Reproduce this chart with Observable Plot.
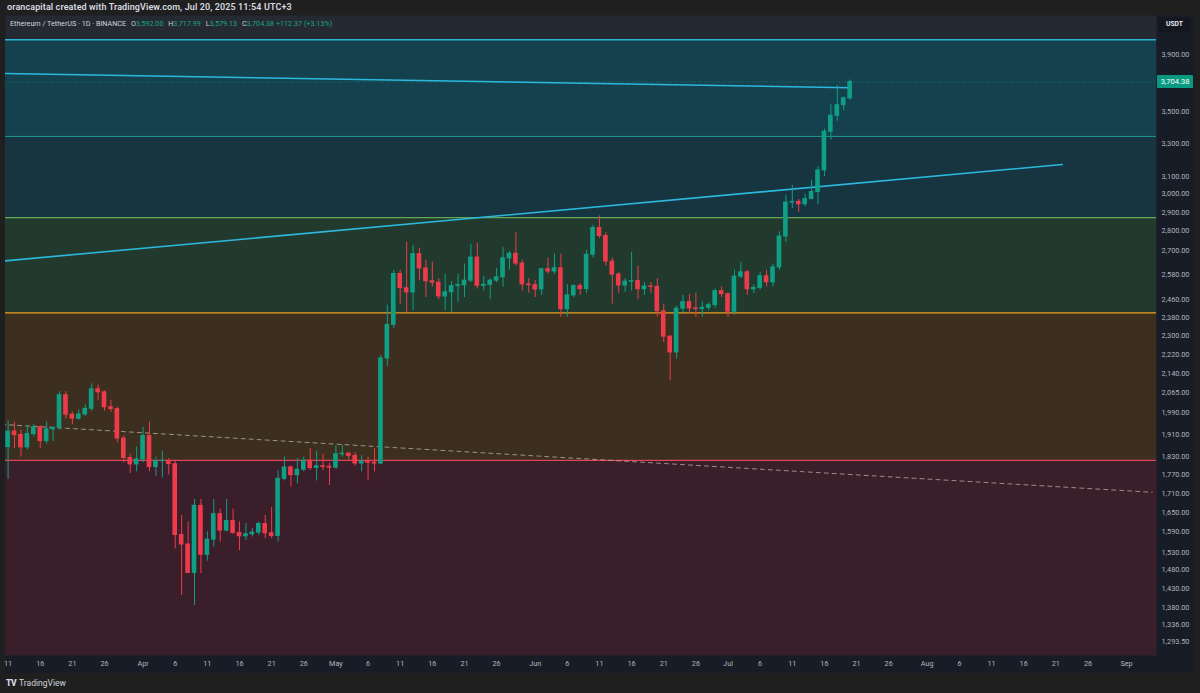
<!DOCTYPE html>
<html>
<head>
<meta charset="utf-8">
<script src="https://cdn.jsdelivr.net/npm/d3@7"></script>
<script src="https://cdn.jsdelivr.net/npm/@observablehq/plot@0.6"></script>
<style>
  html, body { margin: 0; padding: 0; width: 1200px; height: 693px; overflow: hidden; background: #1f1f1f; font-family: Roboto, "Noto Sans", sans-serif; }
  #header { position: absolute; left: 7px; top: 2px; font-size: 9px; font-weight: 600; color: #d8dae0; letter-spacing: 0.1px; }
  #panel { position: absolute; left: 5px; top: 15px; width: 1189px; height: 658px; }
  #panel svg { display: block; }
  #legend { position: absolute; left: 10px; top: 19px; font-size: 7.2px; color: #d1d4dc; white-space: nowrap; }
  #legend .k { color: #c9ccd4; margin-left: 3px; }
  #legend .v { color: #17a58a; }
  #usdt { position: absolute; left: 1158px; top: 17px; width: 33px; height: 15px; background: #14171f; border-radius: 2px; color: #e6e8ee; font-size: 6.8px; font-weight: 700; line-height: 15px; text-align: center; }
  #logo { position: absolute; left: 6px; top: 678px; font-size: 8.5px; color: #d1d4dc; display: flex; align-items: center; gap: 3px; }
  #logo b { font-size: 8.5px; font-weight: 900; letter-spacing: -0.5px; }
</style>
</head>
<body>
<div id="header">orancapital created with TradingView.com, Jul 20, 2025 11:54 UTC+3</div>
<div id="panel"></div>
<div id="legend">Ethereum / TetherUS · 1D · BINANCE <span class="k">O</span><span class="v">3,592.00</span> <span class="k">H</span><span class="v">3,717.99</span> <span class="k">L</span><span class="v">3,579.13</span> <span class="k">C</span><span class="v">3,704.38 +112.37 (+3.13%)</span></div>
<div id="usdt">USDT</div>
<div id="logo"><b>TV</b><span>TradingView</span></div>
<script>
// ---------------- data ----------------
const dates = [
 "2025-03-11","2025-03-12","2025-03-13","2025-03-14","2025-03-15","2025-03-16","2025-03-17","2025-03-18","2025-03-19","2025-03-20",
 "2025-03-21","2025-03-22","2025-03-23","2025-03-24","2025-03-25","2025-03-26","2025-03-27","2025-03-28","2025-03-29","2025-03-30","2025-03-31",
 "2025-04-01","2025-04-02","2025-04-03","2025-04-04","2025-04-05","2025-04-06","2025-04-07","2025-04-08","2025-04-09","2025-04-10",
 "2025-04-11","2025-04-12","2025-04-13","2025-04-14","2025-04-15","2025-04-16","2025-04-17","2025-04-18","2025-04-19","2025-04-20",
 "2025-04-21","2025-04-22","2025-04-23","2025-04-24","2025-04-25","2025-04-26","2025-04-27","2025-04-28","2025-04-29","2025-04-30",
 "2025-05-01","2025-05-02","2025-05-03","2025-05-04","2025-05-05","2025-05-06","2025-05-07","2025-05-08","2025-05-09","2025-05-10",
 "2025-05-11","2025-05-12","2025-05-13","2025-05-14","2025-05-15","2025-05-16","2025-05-17","2025-05-18","2025-05-19","2025-05-20",
 "2025-05-21","2025-05-22","2025-05-23","2025-05-24","2025-05-25","2025-05-26","2025-05-27","2025-05-28","2025-05-29","2025-05-30","2025-05-31",
 "2025-06-01","2025-06-02","2025-06-03","2025-06-04","2025-06-05","2025-06-06","2025-06-07","2025-06-08","2025-06-09","2025-06-10",
 "2025-06-11","2025-06-12","2025-06-13","2025-06-14","2025-06-15","2025-06-16","2025-06-17","2025-06-18","2025-06-19","2025-06-20",
 "2025-06-21","2025-06-22","2025-06-23","2025-06-24","2025-06-25","2025-06-26","2025-06-27","2025-06-28","2025-06-29","2025-06-30",
 "2025-07-01","2025-07-02","2025-07-03","2025-07-04","2025-07-05","2025-07-06","2025-07-07","2025-07-08","2025-07-09","2025-07-10",
 "2025-07-11","2025-07-12","2025-07-13","2025-07-14","2025-07-15","2025-07-16","2025-07-17","2025-07-18","2025-07-19","2025-07-20"
];
const opens = [
 1865,1920,1908,1864,1911,1936,1886,1928,1934,2056,
 1982,1967,1983,2004,2079,2067,2010,2003,1895,1827,1805,
 1822,1904,1796,1816,1817,1806,1581,1553,1472,1670,
 1523,1567,1644,1594,1623,1587,1577,1583,1588,1614,
 1586,1578,1757,1795,1769,1787,1818,1793,1799,1797,
 1794,1840,1842,1834,1808,1815,1811,1808,2203,2346,
 2582,2514,2494,2680,2609,2547,2540,2475,2495,2524,
 2528,2550,2663,2525,2530,2550,2566,2659,2682,2633,2532,
 2528,2508,2605,2594,2610,2417,2480,2524,2510,2677,
 2815,2773,2643,2579,2527,2545,2548,2509,2522,2520,
 2407,2295,2228,2419,2449,2420,2417,2423,2435,2500,
 2486,2405,2569,2590,2509,2515,2571,2542,2614,2770,
 2953,2957,2943,2972,3012,3137,3373,3476,3546,3592
];
const highs = [
 1960,1955,1925,1940,1945,1940,1955,1935,2070,2070,
 1992,2000,2020,2100,2095,2073,2035,2010,1905,1840,1865,
 1935,1955,1830,1850,1825,1815,1640,1620,1690,1690,
 1590,1690,1660,1690,1660,1620,1615,1600,1620,1640,
 1665,1785,1830,1800,1825,1830,1860,1850,1840,1810,
 1870,1870,1845,1845,1835,1830,1860,2215,2435,2600,
 2600,2740,2725,2710,2650,2640,2560,2580,2545,2580,
 2630,2730,2735,2570,2560,2610,2715,2695,2790,2650,2560,
 2550,2610,2660,2680,2680,2530,2530,2535,2700,2830,
 2880,2790,2660,2590,2560,2690,2620,2540,2540,2560,
 2440,2300,2430,2480,2485,2490,2450,2445,2510,2520,
 2490,2600,2640,2600,2530,2590,2600,2630,2795,2995,
 3050,2970,3000,3080,3160,3390,3550,3680,3600,3717.99
];
const lows = [
 1755,1860,1830,1855,1900,1860,1875,1885,1925,1965,
 1945,1962,1975,1995,2035,1995,1990,1880,1810,1775,1780,
 1810,1780,1765,1760,1770,1540,1411,1470,1385,1470,
 1505,1545,1560,1590,1583,1535,1565,1575,1580,1570,
 1570,1560,1750,1730,1740,1780,1785,1750,1785,1735,
 1790,1830,1820,1800,1780,1750,1780,1805,2170,2330,
 2440,2400,2410,2550,2470,2520,2460,2410,2400,2450,
 2470,2540,2510,2500,2460,2540,2520,2600,2620,2500,2490,
 2470,2480,2580,2580,2380,2380,2470,2480,2490,2660,
 2760,2620,2440,2490,2495,2500,2460,2480,2490,2380,
 2270,2112,2200,2400,2395,2380,2380,2410,2420,2470,
 2380,2390,2560,2480,2490,2505,2520,2520,2600,2740,
 2920,2900,2930,2970,2940,3100,3320,3440,3510,3579.13
];
const closes = [
 1920,1908,1864,1911,1936,1886,1928,1934,2056,1982,
 1967,1983,2004,2079,2067,2010,2003,1895,1827,1805,1822,
 1904,1796,1816,1817,1806,1581,1553,1472,1670,1523,
 1567,1644,1594,1623,1587,1577,1583,1588,1614,1586,
 1578,1757,1795,1769,1787,1818,1793,1799,1797,1794,
 1840,1842,1834,1808,1815,1811,1808,2203,2346,2582,
 2514,2494,2680,2609,2547,2540,2475,2495,2524,2528,
 2550,2663,2525,2530,2550,2566,2659,2682,2633,2532,2528,
 2508,2605,2594,2610,2417,2480,2524,2510,2677,2815,
 2773,2643,2579,2527,2545,2548,2509,2522,2520,2407,
 2295,2228,2419,2449,2420,2417,2423,2435,2500,2486,
 2405,2569,2590,2509,2515,2571,2542,2614,2770,2953,
 2957,2943,2972,3012,3137,3373,3476,3546,3592,3704.38
];
// price axis ticks
const priceTicks = [3900,3500,3300,3100,3000,2900,2800,2700,2580,2460,2380,2300,2220,2140,2065,1990,1910,1830,1770,1710,1650,1590,1530,1480,1430,1380,1336,1293.5];
// time axis ticks
const timeTickDates = [
 "2025-03-11","2025-03-16","2025-03-21","2025-03-26",
 "2025-04-01","2025-04-06","2025-04-11","2025-04-16","2025-04-21","2025-04-26",
 "2025-05-01","2025-05-06","2025-05-11","2025-05-16","2025-05-21","2025-05-26",
 "2025-06-01","2025-06-06","2025-06-11","2025-06-16","2025-06-21","2025-06-26",
 "2025-07-01","2025-07-06","2025-07-11","2025-07-16","2025-07-21","2025-07-26",
 "2025-08-01","2025-08-06","2025-08-11","2025-08-16","2025-08-21","2025-08-26",
 "2025-09-01"
];
const timeTickLabels = [
 "11","16","21","26","Apr","6","11","16","21","26","May","6","11","16","21","26",
 "Jun","6","11","16","21","26","Jul","6","11","16","21","26","Aug","6","11","16","21","26","Sep"
];
// horizontal levels (zone boundaries), top to bottom
const levelPrices = [4010, 3344, 2870, 2400, 1819];
// trend lines
const descLineDates = ["2025-03-10", "2025-07-20"];
const descLinePrices = [3764, 3664];
const ascLineDates = ["2025-03-10", "2025-08-22"];
const ascLinePrices = [2645, 3172];
const dashLineDates = ["2025-03-10", "2025-09-05"];
const dashLinePrices = [1946, 1713];
const lastClose = 3704.38;

// ---------------- build ----------------
const parse = s => new Date(s + "T00:00:00Z");
const DAY = 864e5;
const candles = dates.map((d, i) => ({
  date: parse(d), o: opens[i], h: highs[i], l: lows[i], c: closes[i]
}));
const green = "#0f9f85", red = "#ee3b4b";
const col = d => d.c >= d.o ? green : red;

const xDomain = [new Date("2025-03-10T14:18:00Z"), new Date("2025-09-05T15:50:00Z")];
const yDomain = [1260.5, 4197];

const zoneFills = ["#15414f", "#163540", "#223a2d", "#3c2f1f", "#3a1e2a"];
const levelStrokes = ["#2ab4d4", "#1f9e98", "#78c45c", "#e6a21f", "#e0465a"];
const levelWidths = [1.3, 1, 1, 1.4, 1.4];
const zoneBounds = levelPrices.map((p, i) => ({hi: p, lo: i + 1 < levelPrices.length ? levelPrices[i + 1] : yDomain[0]}));

const tickLabelMap = new Map(timeTickDates.map((d, i) => [+parse(d), timeTickLabels[i]]));

const lineData = (ds, ps) => ds.map((d, i) => ({date: parse(d), p: ps[i]}));

const priceLabel = (index, scales, values, dims) => {
  const y = scales.y(lastClose);
  const g = d3.create("svg:g");
  const x0 = dims.width - dims.marginRight + 1;
  g.append("rect").attr("x", x0).attr("y", y - 6.5).attr("width", 36).attr("height", 13).attr("rx", 1).attr("fill", "#089981");
  g.append("text").attr("x", x0 + 18).attr("y", y).attr("dy", "0.35em").attr("text-anchor", "middle")
    .attr("fill", "#ffffff").attr("font-size", 7.5).text(d3.format(",.2f")(lastClose));
  return g.node();
};

const chart = Plot.plot({
  width: 1189, height: 658,
  marginLeft: 0, marginRight: 38, marginTop: 0, marginBottom: 18,
  style: {background: "#181c26", fontFamily: "Roboto, 'Noto Sans', sans-serif", fontSize: "7.5px", color: "#b2b5be", overflow: "visible"},
  x: {type: "utc", domain: xDomain},
  y: {type: "log", domain: yDomain},
  marks: [
    Plot.frame({fill: "#252a32", stroke: null}),
    ...zoneBounds.map((z, i) => Plot.rect([z], {y1: "lo", y2: "hi", fill: zoneFills[i]})),
    ...levelPrices.map((p, i) => Plot.ruleY([p], {stroke: levelStrokes[i], strokeWidth: levelWidths[i]})),
    Plot.ruleY([lastClose], {stroke: "#1aa88e", strokeOpacity: 0.55, strokeDasharray: "1,2"}),
    Plot.line(lineData(dashLineDates, dashLinePrices), {x: "date", y: "p", stroke: "#b9b3a6", strokeOpacity: 0.75, strokeWidth: 1, strokeDasharray: "4,4", clip: true}),
    Plot.line(lineData(ascLineDates, ascLinePrices), {x: "date", y: "p", stroke: "#2cb8dc", strokeWidth: 1.6, clip: true}),
    Plot.line(lineData(descLineDates, descLinePrices), {x: "date", y: "p", stroke: "#2cb8dc", strokeWidth: 1.6, clip: true}),
    Plot.ruleX(candles, {x: "date", y1: "l", y2: "h", stroke: col, strokeWidth: 1}),
    Plot.rect(candles, {
      x1: d => new Date(+d.date - 0.36 * DAY), x2: d => new Date(+d.date + 0.36 * DAY),
      y1: "o", y2: "c", fill: col, insetTop: -0.5, insetBottom: -0.5
    }),
    Plot.axisY(priceTicks, {anchor: "right", tickSize: 0, tickPadding: 5, tickFormat: d3.format(",.2f"), fill: "#b2b5be", fontSize: 7.3, label: null}),
    Plot.axisX(timeTickDates.map(parse), {anchor: "bottom", tickSize: 0, tickPadding: 5, tickFormat: d => tickLabelMap.get(+d), fill: "#b2b5be", fontSize: 7.3, label: null}),
    priceLabel
  ]
});
document.getElementById("panel").appendChild(chart);
</script>
</body>
</html>
